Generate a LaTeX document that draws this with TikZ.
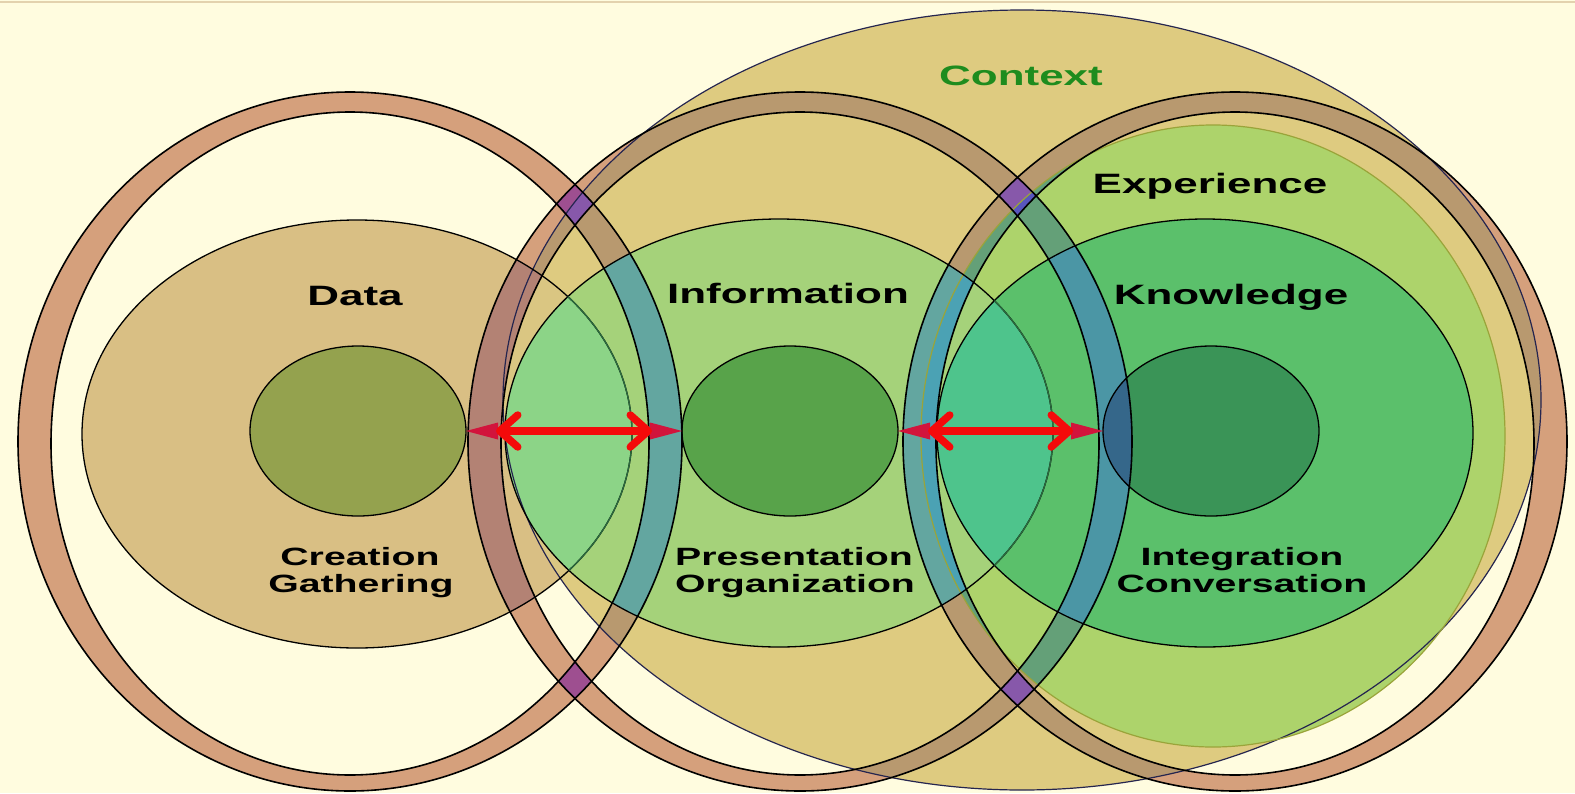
\documentclass[tikz,border=0pt]{standalone}
\usepackage{fontspec}
\setmainfont{Liberation Sans}
\usetikzlibrary{shapes.geometric,arrows.meta}
\definecolor{bgc}{HTML}{FFFCDF}
\definecolor{topline}{HTML}{E3D2AE}
\definecolor{ctxc}{HTML}{DECB80}
\definecolor{datc}{HTML}{D9BF84}
\definecolor{dctx}{HTML}{DAC682}
\definecolor{expc}{HTML}{ADD36B}
\definecolor{infoc}{HTML}{A5D27A}
\definecolor{knowc}{HTML}{5BC06B}
\definecolor{lensDI}{HTML}{8CD487}
\definecolor{lensIK}{HTML}{4EC48C}
\definecolor{dinc}{HTML}{94A24E}
\definecolor{iinc}{HTML}{58A34A}
\definecolor{kinc}{HTML}{3A9457}
\definecolor{ringc}{HTML}{D5A07C}
\definecolor{ringctx}{HTML}{B8996F}
\definecolor{ringdat}{HTML}{B38274}
\definecolor{ringexp}{HTML}{64A078}
\definecolor{ringinfo}{HTML}{63A6A0}
\definecolor{ringIE}{HTML}{4BA2B4}
\definecolor{ringknow}{HTML}{4B96A5}
\definecolor{ringIK}{HTML}{4AA6B8}
\definecolor{ringDI}{HTML}{6DA9A0}
\definecolor{ringkin}{HTML}{35678A}
\definecolor{purA}{HTML}{9E4F90}
\definecolor{purB}{HTML}{8758AA}
\definecolor{purC}{HTML}{5856BE}
\definecolor{redc}{HTML}{F40A0A}
\definecolor{crim}{HTML}{D2143C}
\definecolor{ctxtext}{HTML}{1E8C1E}
\definecolor{dkg}{HTML}{2B6B3E}
\definecolor{olivec}{HTML}{9AA43A}
\definecolor{navyc}{HTML}{25254F}

\def\pCtx{(1022,400) ellipse[x radius=519pt,y radius=390pt]}
\def\pData{(357,434) ellipse[x radius=275pt,y radius=214pt]}
\def\pInfo{(779,433) ellipse[x radius=274pt,y radius=214pt]}
\def\pKnow{(1205,433) ellipse[x radius=268pt,y radius=214pt]}
\def\pExp{(1213,436) ellipse[x radius=292pt,y radius=311pt]}
\def\pDin{(358,431) ellipse[x radius=108pt,y radius=85pt]}
\def\pIin{(790,431) ellipse[x radius=108pt,y radius=85pt]}
\def\pKin{(1211,431) ellipse[x radius=108pt,y radius=85pt]}
\def\pRingL{(682,441.5) arc[start angle=0,end angle=360,x radius=332pt,y radius=349.5pt] (649,443.5) arc[start angle=0,end angle=-360,x radius=299pt,y radius=331.5pt]}
\def\pRingM{(1132,441.5) arc[start angle=0,end angle=360,x radius=332pt,y radius=349.5pt] (1099,443.5) arc[start angle=0,end angle=-360,x radius=299pt,y radius=331.5pt]}
\def\pRingR{(1567,441.5) arc[start angle=0,end angle=360,x radius=332pt,y radius=349.5pt] (1534,443.5) arc[start angle=0,end angle=-360,x radius=299pt,y radius=331.5pt]}

\newcommand\ringlayer[1]{%
  \fill[ringc] #1;
  \begin{scope}\clip\pCtx; \fill[ringctx] #1;\end{scope}
  \begin{scope}\clip\pData; \fill[ringdat] #1;\end{scope}
  \begin{scope}\clip\pExp; \fill[ringexp] #1;\end{scope}
  \begin{scope}\clip\pInfo; \fill[ringinfo] #1;\end{scope}
  \begin{scope}\clip\pInfo; \clip\pExp; \fill[ringIE] #1;\end{scope}
  \begin{scope}\clip\pKnow; \fill[ringknow] #1;\end{scope}
  \begin{scope}\clip\pInfo; \clip\pKnow; \fill[ringIK] #1;\end{scope}
  \begin{scope}\clip\pData; \clip\pInfo; \fill[ringDI] #1;\end{scope}
  \begin{scope}\clip\pKin; \fill[ringkin] #1;\end{scope}
}
\newcommand\stretchtxt[1]{\scalebox{1.57}[1]{#1}}

\begin{document}
\begin{tikzpicture}[x=1pt,y=-1pt,
  edge/.style={draw=black,line width=1.3pt},
  ringedge/.style={draw=black,line width=1.6pt},
  innernode/.style={ellipse,draw=black,line width=1.3pt,minimum width=216pt,minimum height=170pt,inner sep=0pt,outer sep=0pt},
  redarrow/.style={draw=redc,line width=7.5pt,{Straight Barb[round,length=18pt,width=32pt]}-{Straight Barb[round,length=18pt,width=32pt]},shorten <=30pt,shorten >=30pt},
  biglab/.style={font=\fontsize{28pt}{32pt}\selectfont\bfseries,anchor=base,inner sep=0pt},
  smalllab/.style={font=\fontsize{25pt}{28pt}\selectfont\bfseries,anchor=base,inner sep=0pt}]
\useasboundingbox (0,0) rectangle (1575,793);
\fill[bgc] (0,0) rectangle (1575,793);
\draw[topline,line width=2pt] (0,1.5) -- (1575,1.5);

% base regions
\fill[ctxc] \pCtx;
\fill[datc] \pData;
\begin{scope}\clip\pData; \fill[dctx] \pCtx;\end{scope}
\fill[expc] \pExp;
\fill[infoc] \pInfo;
\fill[knowc] \pKnow;
\begin{scope}\clip\pData; \fill[lensDI] \pInfo;\end{scope}
\begin{scope}\clip\pInfo; \fill[lensIK] \pKnow;\end{scope}
\fill[dinc] \pDin;
\fill[iinc] \pIin;
\fill[kinc] \pKin;

% rings
\ringlayer{\pRingL}
\ringlayer{\pRingM}
\ringlayer{\pRingR}
\begin{scope}\clip\pRingL; \fill[purA]\pRingM; \clip\pCtx; \fill[purB]\pRingM;\end{scope}
\begin{scope}\clip\pRingM; \fill[purB]\pRingR; \clip\pExp; \fill[purC]\pRingR;\end{scope}

% outlines
\draw[navyc,line width=1.2pt] \pCtx;
\draw[olivec,line width=1.2pt] \pExp;
\draw[edge] \pData;
\draw[edge] \pInfo;
\draw[edge] \pKnow;
\begin{scope}\clip\pInfo; \draw[dkg,line width=1.3pt] \pData;\end{scope}
\begin{scope}\clip\pKnow; \draw[dkg,line width=1.3pt] \pInfo;\end{scope}
\draw[ringedge] \pRingL;
\draw[ringedge] \pRingM;
\draw[ringedge] \pRingR;

% inner circles
\node[innernode] (din) at (358,431) {};
\node[innernode] (iin) at (790,431) {};
\node[innernode] (kin) at (1211,431) {};

% arrows
\fill[crim] (din.east) -- ++(32,-8.5) -- ++(0,17) -- cycle;
\fill[crim] (iin.west) -- ++(-32,-8.5) -- ++(0,17) -- cycle;
\draw[redarrow] (din.east) -- (iin.west);
\fill[crim] (iin.east) -- ++(32,-8.5) -- ++(0,17) -- cycle;
\fill[crim] (kin.west) -- ++(-32,-8.5) -- ++(0,17) -- cycle;
\draw[redarrow] (iin.east) -- (kin.west);

% labels
\node[biglab,text=ctxtext] (tCtx) at (1021,85) {\stretchtxt{Context}};
\node[biglab] (tExp) at (1210,193) {\stretchtxt{Experience}};
\node[biglab] (tData) at (355,305) {\stretchtxt{Data}};
\node[biglab] (tInfo) at (788,303) {\stretchtxt{Information}};
\node[biglab] (tKnow) at (1231,304) {\stretchtxt{Knowledge}};
\node[smalllab] (tCre) at (360,565) {\stretchtxt{Creation}};
\node[smalllab] (tGat) at (361,592) {\stretchtxt{Gathering}};
\node[smalllab] (tPre) at (794,565) {\stretchtxt{Presentation}};
\node[smalllab] (tOrg) at (795,592) {\stretchtxt{Organization}};
\node[smalllab] (tInt) at (1242,565) {\stretchtxt{Integration}};
\node[smalllab] (tCon) at (1242,592) {\stretchtxt{Conversation}};
\end{tikzpicture}
\end{document}
